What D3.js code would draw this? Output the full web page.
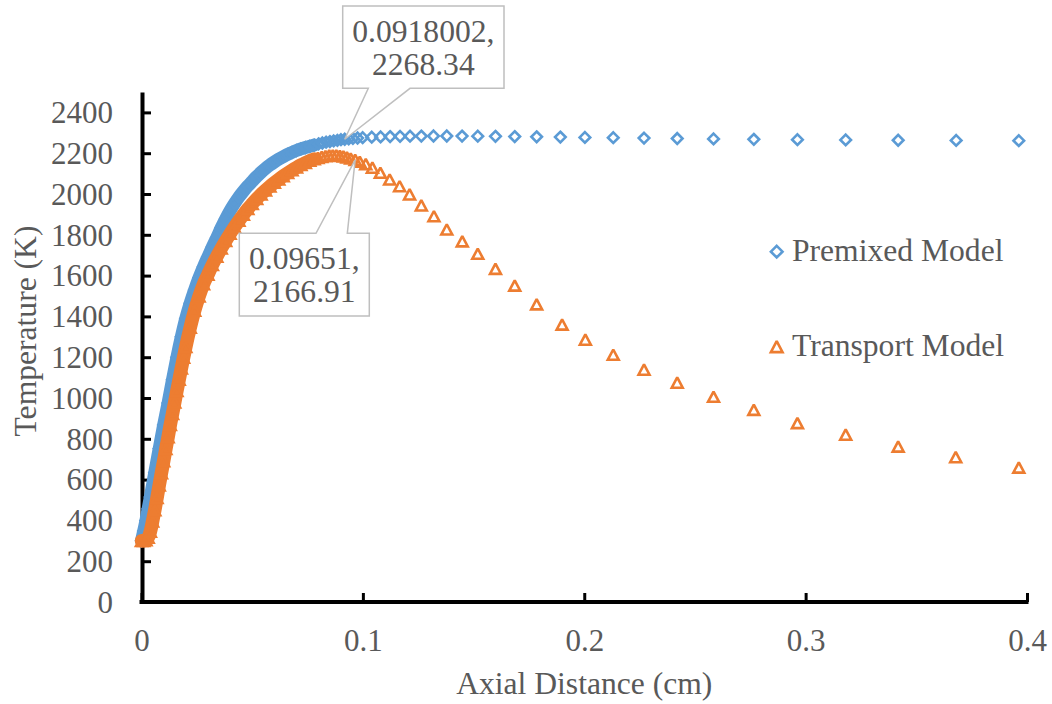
<!DOCTYPE html>
<html><head><meta charset="utf-8">
<script src="https://cdn.jsdelivr.net/npm/d3@7"></script>
<style>
html,body{margin:0;padding:0;background:#fff;}
svg{display:block;}
</style></head><body>
<svg id="chart" width="1052" height="704"></svg>
<script>
// ---- data ----
const premixedX = [0, 0.001, 0.002, 0.003, 0.004, 0.006, 0.008, 0.010, 0.012, 0.014, 0.016, 0.018, 0.020, 0.022, 0.024, 0.026, 0.028, 0.030, 0.032, 0.034, 0.036, 0.038, 0.040, 0.042, 0.044, 0.046, 0.048, 0.050, 0.052, 0.054, 0.056, 0.058, 0.060, 0.062, 0.064, 0.066, 0.068, 0.070, 0.072, 0.074, 0.076, 0.078, 0.0800, 0.0817, 0.0834, 0.0851, 0.0868, 0.0885, 0.0901, 0.0918002, 0.0936, 0.0955, 0.0976, 0.0999, 0.1040, 0.1080, 0.1123, 0.1168, 0.1213, 0.1264, 0.1319, 0.1379, 0.1448, 0.1519, 0.1599, 0.1686, 0.1785, 0.1892, 0.2003, 0.2131, 0.2270, 0.2420, 0.2584, 0.2766, 0.2963, 0.3181, 0.3418, 0.3680, 0.3963];
const premixedT = [300, 348, 400, 457, 515, 635, 752, 868, 975, 1090, 1200, 1300, 1390, 1465, 1530, 1590, 1643, 1692, 1740, 1786, 1834, 1878, 1918, 1953, 1985, 2013, 2039, 2062, 2085, 2106, 2125, 2142, 2157, 2171, 2183, 2194, 2204, 2213, 2221, 2228, 2234, 2240, 2246, 2250, 2254, 2257, 2260, 2263, 2266, 2268.34, 2270.5, 2272.5, 2274.5, 2276, 2278.5, 2280, 2281.5, 2282.5, 2283.3, 2284, 2284.3, 2284.3, 2284, 2283.5, 2282.7, 2281.7, 2280.5, 2279, 2277.5, 2276, 2274, 2272, 2270, 2268, 2266.5, 2265, 2263.5, 2262.5, 2261.5];
const transportX = [0, 0.001, 0.002, 0.003, 0.004, 0.005, 0.006, 0.007, 0.008, 0.009, 0.010, 0.011, 0.012, 0.013, 0.014, 0.015, 0.016, 0.017, 0.018, 0.019, 0.020, 0.022, 0.024, 0.026, 0.028, 0.030, 0.032, 0.034, 0.036, 0.038, 0.040, 0.042, 0.044, 0.046, 0.048, 0.050, 0.052, 0.054, 0.056, 0.058, 0.060, 0.062, 0.064, 0.066, 0.068, 0.070, 0.072, 0.074, 0.076, 0.078, 0.0797, 0.0814, 0.0831, 0.0848, 0.0864, 0.0880, 0.0896, 0.0912, 0.0928, 0.0945, 0.09651, 0.0986, 0.1013, 0.1043, 0.1079, 0.1121, 0.1166, 0.1211, 0.1264, 0.1321, 0.1379, 0.1449, 0.1519, 0.1599, 0.1686, 0.1785, 0.1900, 0.2005, 0.2131, 0.2270, 0.2420, 0.2584, 0.2766, 0.2963, 0.3181, 0.3418, 0.3678, 0.3963];
const transportT = [300, 300, 303, 315, 345, 395, 450, 510, 572, 632, 690, 750, 808, 868, 922, 978, 1035, 1090, 1145, 1198, 1250, 1345, 1428, 1498, 1558, 1605, 1652, 1693, 1733, 1770, 1805, 1838, 1869, 1899, 1927, 1952, 1976, 1998, 2018, 2037, 2055, 2072, 2088, 2103, 2117, 2130, 2142, 2153, 2163, 2171, 2177, 2182, 2186, 2189, 2190, 2189, 2187, 2184, 2179, 2174, 2166.91, 2158, 2146, 2129, 2104, 2071, 2038, 1998, 1944, 1891, 1826, 1768, 1707, 1633, 1551, 1459, 1360, 1286, 1212, 1139, 1075, 1006, 942, 877, 820, 762, 710, 659];
const seriesNames = ["Premixed Model", "Transport Model"];
const xTicks = [0, 0.1, 0.2, 0.3, 0.4];
const yTicks = [0, 200, 400, 600, 800, 1000, 1200, 1400, 1600, 1800, 2000, 2200, 2400];
const calloutX = [0.0918002, 0.09651];   // labelled points (one per series)
const xTitle = "Axial Distance (cm)";
const yTitle = "Temperature (K)";

// ---- layout / style ----
const W = 1052, H = 704;
const TEXT = "#595959", FS = 31, FS2 = 31.6;
const FONT = '"Liberation Serif","Times New Roman",serif';
const colors = ["#5B9BD5", "#ED7D31"];
const denseLimit = 0.078; // solid overlapping-marker band before this distance
const svg = d3.select("#chart");
svg.append("rect").attr("width", W).attr("height", H).attr("fill", "#fff");

const x = d3.scaleLinear().domain([0, 0.4]).range([141.5, 1027]);
const y = d3.scaleLinear().domain([0, 2500]).range([602, 92]);

// axes
const yAxis = d3.axisLeft(y).tickValues(yTicks).tickSizeInner(-9).tickSizeOuter(0).tickPadding(29).tickFormat(d => String(d));
const xAxis = d3.axisBottom(x).tickValues(xTicks).tickSizeInner(-9).tickSizeOuter(0).tickPadding(27).tickFormat(d => String(d));

const gy = svg.append("g").attr("transform", "translate(142,0)").call(yAxis);
const gx = svg.append("g").attr("transform", "translate(0,602)").call(xAxis);
[gx, gy].forEach(g => {
  g.attr("font-family", FONT).attr("font-size", FS);
  g.select(".domain").attr("stroke", "#000").attr("stroke-width", 4);
  g.selectAll(".tick line").attr("stroke", "#000").attr("stroke-width", 3);
  g.selectAll(".tick text").attr("fill", TEXT).attr("font-size", FS).attr("font-family", FONT);
});
gy.selectAll(".tick text").attr("dy", "0.33em");
gx.select(".domain").attr("d", `M${x(0) - 2},0H${x(0.4) + 1.5}`);

// axis titles
svg.append("text").attr("x", (x(0) + x(0.4)) / 2).attr("y", 694)
  .attr("text-anchor", "middle").attr("fill", TEXT).attr("font-size", FS2).attr("font-family", FONT).text(xTitle);
svg.append("text").attr("transform", "translate(36,331) rotate(-90)")
  .attr("text-anchor", "middle").attr("fill", TEXT).attr("font-size", FS2).attr("font-family", FONT).text(yTitle);

// markers
const diamond = r => `M0,${-r}L${r},0L0,${r}L${-r},0Z`;
const triangle = s => `M0,${-5 * s}L${5.2 * s},${4.8 * s}L${-5.2 * s},${4.8 * s}Z`;
const shapes = [diamond(5.3), triangle(1.05)];
const bandW = [13, 13.5];

const series = [
  premixedX.map((v, i) => [v, premixedT[i]]),
  transportX.map((v, i) => [v, transportT[i]])
];

const line = d3.line().x(d => x(d[0])).y(d => y(d[1])).curve(d3.curveMonotoneX);

series.forEach((data, s) => {
  const g = svg.append("g");
  g.append("path")
    .attr("d", line(data.filter(d => d[0] <= denseLimit)))
    .attr("fill", "none").attr("stroke", colors[s]).attr("stroke-width", bandW[s])
    .attr("stroke-linecap", "round").attr("stroke-linejoin", "round");
  g.selectAll("path.m").data(data).join("path").attr("class", "m")
    .attr("d", shapes[s])
    .attr("transform", d => `translate(${x(d[0])},${y(d[1])})`)
    .attr("fill", "none").attr("stroke", colors[s]).attr("stroke-width", 2.6)
    .attr("stroke-linejoin", "miter").attr("stroke-miterlimit", 2);
});

// data callouts
const callouts = [
  { s: 0, box: [342.7, 6, 161.3, 82.3], base: [368.3, 410], side: "bottom" },
  { s: 1, box: [239.3, 233.3, 130, 82.7], base: [316, 347.3], side: "top" }
];
callouts.forEach(c => {
  const xs = c.s === 0 ? premixedX : transportX;
  const ts = c.s === 0 ? premixedT : transportT;
  const i = xs.indexOf(calloutX[c.s]);
  const px = x(xs[i]), py = y(ts[i]);
  const [bx, by, bw, bh] = c.box;
  let d;
  if (c.side === "bottom") {
    d = `M${bx},${by}H${bx + bw}V${by + bh}H${c.base[1]}L${px},${py}L${c.base[0]},${by + bh}H${bx}Z`;
  } else {
    d = `M${bx},${by}H${c.base[0]}L${px},${py}L${c.base[1]},${by}H${bx + bw}V${by + bh}H${bx}Z`;
  }
  svg.append("path").attr("d", d).attr("fill", "#fff").attr("stroke", "#BFBFBF").attr("stroke-width", 1.5);
  const cx = bx + bw / 2;
  const t = svg.append("text").attr("text-anchor", "middle").attr("fill", TEXT).attr("font-size", FS2).attr("font-family", FONT);
  t.append("tspan").attr("x", cx).attr("y", by + 35.5).text(`${xs[i]},`);
  t.append("tspan").attr("x", cx).attr("y", by + 68.5).text(`${ts[i]}`);
});

// legend
const legendY = [251.7, 346.7];
seriesNames.forEach((name, s) => {
  svg.append("path").attr("d", s === 0 ? diamond(5.8) : triangle(1.12))
    .attr("transform", `translate(776.7,${legendY[s]})`)
    .attr("fill", "none").attr("stroke", colors[s]).attr("stroke-width", 2.6)
    .attr("stroke-linejoin", "miter").attr("stroke-miterlimit", 2);
  svg.append("text").attr("x", 792).attr("y", legendY[s] + 9.5)
    .attr("fill", TEXT).attr("font-size", FS2).attr("font-family", FONT).text(name);
});
</script>
</body></html>
